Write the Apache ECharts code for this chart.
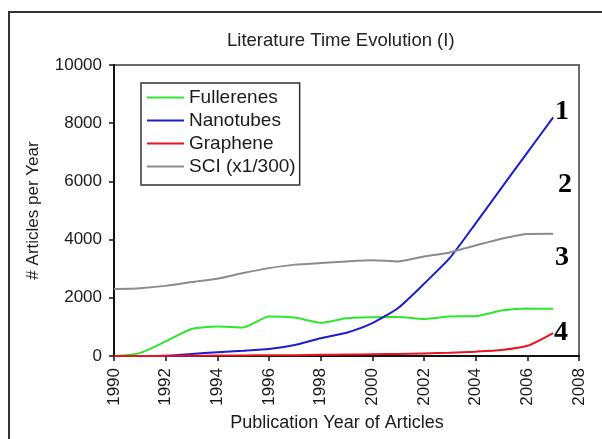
<!DOCTYPE html>
<html>
<head>
<meta charset="utf-8">
<script src="https://cdn.jsdelivr.net/npm/echarts@6/dist/echarts.min.js"></script>
<style>
  html, body { margin: 0; padding: 0; background: #fff; }
  #chart { width: 602px; height: 439px; }
</style>
</head>
<body>
<div id="chart"></div>
<script>
// Publication years and yearly article counts
const years = [1990, 1991, 1992, 1993, 1994, 1995, 1996, 1997, 1998, 1999,
               2000, 2001, 2002, 2003, 2004, 2005, 2006, 2007];
const fullerenes = [0, 100, 500, 930, 1010, 980, 1360, 1320, 1140, 1300,
                    1330, 1340, 1270, 1360, 1370, 1560, 1630, 1620];
const nanotubes = [0, 0, 10, 70, 130, 180, 240, 380, 610, 800,
                   1130, 1650, 2480, 3370, 4560, 5780, 6990, 8200];
const graphene = [0, 0, 5, 10, 15, 20, 25, 30, 40, 50,
                  60, 70, 90, 115, 150, 205, 350, 790];
const sci = [2300, 2330, 2410, 2540, 2655, 2850, 3020, 3140, 3195, 3250,
             3290, 3250, 3420, 3560, 3800, 4030, 4195, 4200];
const seriesNames = ['Fullerenes', 'Nanotubes', 'Graphene', 'SCI (x1/300)'];
const curveLabels = ['1', '2', '3', '4'];

const FONT = '"Liberation Sans", Arial, sans-serif';
const TEXT = '#1a1a1a';

function pairs(values) {
  return years.map((y, i) => [y, values[i]]);
}

function lineSeries(name, values, color) {
  return {
    name: name,
    type: 'line',
    data: pairs(values),
    smooth: 0.2,
    symbol: 'none',
    lineStyle: { color: color, width: 2 },
    itemStyle: { color: color }
  };
}

const chart = echarts.init(document.getElementById('chart'), null, { renderer: 'canvas' });

const labelY = [112, 185, 258, 333];
const labelX = [562, 565, 562, 561];

chart.setOption({
  backgroundColor: '#ffffff',
  animation: false,
  title: {
    text: 'Literature Time Evolution (I)',
    left: 227,
    top: 31,
    padding: 0,
    textStyle: { fontFamily: FONT, fontSize: 18.5, fontWeight: 'normal', color: '#222' }
  },
  legend: {
    orient: 'vertical',
    left: 141,
    top: 83,
    padding: [5, 4, 9, 6],
    itemWidth: 37,
    itemHeight: 2,
    itemGap: 4,
    icon: 'rect',
    borderColor: '#333',
    borderWidth: 1.5,
    backgroundColor: '#fff',
    data: seriesNames,
    textStyle: { fontFamily: FONT, fontSize: 19, lineHeight: 18, color: TEXT }
  },
  grid: {
    left: 114, top: 65, right: 23, bottom: 83,
    show: true, borderColor: '#6a6a6a', borderWidth: 2, backgroundColor: 'transparent'
  },
  xAxis: {
    type: 'value',
    min: 1990, max: 2008, interval: 2,
    name: 'Publication Year of Articles',
    nameLocation: 'middle',
    nameGap: 57,
    nameTextStyle: { fontFamily: FONT, fontSize: 18, color: TEXT, padding: [0, 19, 0, 0] },
    axisLine: { lineStyle: { color: '#111', width: 2 } },
    axisTick: { length: 5, lineStyle: { color: '#111', width: 1.5 } },
    axisLabel: {
      rotate: 90, margin: 12,
      fontFamily: FONT, fontSize: 17, color: TEXT,
      formatter: v => String(v)
    },
    splitLine: { show: false }
  },
  yAxis: {
    type: 'value',
    min: 0, max: 10000, interval: 2000,
    name: '# Articles per Year',
    nameLocation: 'middle',
    nameGap: 72,
    nameTextStyle: { fontFamily: FONT, fontSize: 17, color: TEXT },
    axisLine: { show: true, lineStyle: { color: '#111', width: 2 } },
    axisTick: { show: true, length: 5, lineStyle: { color: '#111', width: 1.5 } },
    axisLabel: {
      margin: 12, fontFamily: FONT, fontSize: 17, color: TEXT,
      formatter: v => String(v)
    },
    splitLine: { show: false }
  },
  graphic: [
    {
      type: 'rect', z: -10, silent: true,
      shape: { x: 9, y: 12, width: 700, height: 500 },
      style: { fill: 'none', stroke: '#333', lineWidth: 2 }
    }
  ].concat(curveLabels.map((t, i) => ({
    type: 'text', silent: true,
    x: labelX[i], y: labelY[i],
    style: {
      text: t,
      font: 'bold 28px "Liberation Serif", "Times New Roman", serif',
      fill: '#000',
      textAlign: 'center',
      textVerticalAlign: 'middle'
    }
  }))),
  series: [
    lineSeries(seriesNames[0], fullerenes, '#2ee62e'),
    lineSeries(seriesNames[1], nanotubes, '#1c1cd0'),
    lineSeries(seriesNames[2], graphene, '#e81420'),
    lineSeries(seriesNames[3], sci, '#8c8c8c')
  ]
});
</script>
</body>
</html>
